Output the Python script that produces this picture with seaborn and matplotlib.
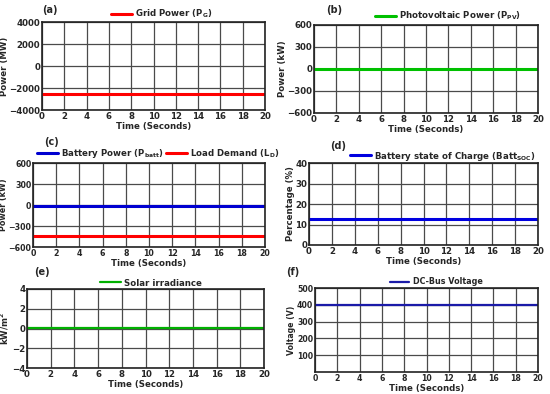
import pandas as pd
import matplotlib
matplotlib.use("Agg")
import matplotlib.pyplot as plt
import seaborn as sns

sns.set_style("white")
plt.rcParams['font.family'] = ['DejaVu Sans']
plt.rcParams['font.weight'] = 'bold'

# Data (constant signals over the 20 s simulation)
time = [0, 20]
grid_power = [-2550, -2550]        # MW
pv_power = [0, 0]                  # kW
battery_power = [-15, -15]         # kW
load_demand = [-440, -440]         # kW
battery_soc = [12.5, 12.5]         # %
irradiance = [0.1, 0.1]            # kW/m2
dc_bus_voltage = [400, 400]        # V

x_ticks = list(range(0, 21, 2))

fig = plt.figure(figsize=(5.5, 3.94), dpi=100)

grid_col = '#4a4a4a'
fs = 6.2


def style_axes(ax, yticks, ylim, ylabel, xlabel='Time (Seconds)', ylabel_fs=fs, tick_fs=fs):
    ax.set_xlim(0, 20)
    ax.set_ylim(*ylim)
    ax.set_xticks(x_ticks)
    ax.set_yticks(yticks)
    ax.grid(True, color=grid_col, linewidth=0.9)
    ax.tick_params(axis='both', labelsize=tick_fs, length=0, pad=1.2)
    for lab in ax.get_xticklabels() + ax.get_yticklabels():
        lab.set_fontweight('bold')
    for sp in ax.spines.values():
        sp.set_color('#222222')
        sp.set_linewidth(1.2)
    ax.set_xlabel(xlabel, fontsize=fs, fontweight='bold', labelpad=1)
    ax.set_ylabel(ylabel, fontsize=ylabel_fs, fontweight='bold', labelpad=0.5)


def add_legend(ax, x, y, ncol=1, size=6.2):
    leg = ax.legend(loc='center left', bbox_to_anchor=(x / 550, 1 - y / 394),
                    bbox_transform=fig.transFigure, frameon=False, ncol=ncol,
                    fontsize=size, handlelength=2.4, handletextpad=0.4,
                    columnspacing=0.3, borderpad=0, borderaxespad=0)
    for t in leg.get_texts():
        t.set_fontweight('bold')


# (a) Grid power
ax_a = fig.add_axes([42 / 550, 1 - 110 / 394, 223 / 550, 88 / 394])
df = pd.DataFrame({'t': time, 'v': grid_power})
sns.lineplot(data=df, x='t', y='v', ax=ax_a, color='#ff0000', linewidth=2.2,
             label='Grid Power (P$_\\mathbf{G}$)')
style_axes(ax_a, [-4000, -2000, 0, 2000, 4000], (-4000, 4000), 'Power (MW)')
add_legend(ax_a, 111, 14)
fig.text(42 / 550, 1 - 10 / 394, '(a)', fontsize=7, fontweight='bold', va='center')

# (b) Photovoltaic power
ax_b = fig.add_axes([314 / 550, 1 - 113 / 394, 224 / 550, 88 / 394])
df = pd.DataFrame({'t': time, 'v': pv_power})
sns.lineplot(data=df, x='t', y='v', ax=ax_b, color='#00c000', linewidth=2.2,
             label='Photovoltaic Power (P$_\\mathbf{PV}$)')
style_axes(ax_b, [-600, -300, 0, 300, 600], (-600, 600), 'Power (kW)')
add_legend(ax_b, 375, 16)
fig.text(326 / 550, 1 - 10 / 394, '(b)', fontsize=7, fontweight='bold', va='center')

# (c) Battery power and load demand
ax_c = fig.add_axes([33 / 550, 1 - 247 / 394, 232 / 550, 84 / 394])
df = pd.DataFrame({'t': time, 'v': battery_power})
sns.lineplot(data=df, x='t', y='v', ax=ax_c, color='#0000d0', linewidth=2.2,
             label='Battery Power (P$_\\mathbf{batt}$)')
df = pd.DataFrame({'t': time, 'v': load_demand})
sns.lineplot(data=df, x='t', y='v', ax=ax_c, color='#ff0000', linewidth=2.2,
             label='Load Demand (L$_\\mathbf{D}$)')
style_axes(ax_c, [-600, -300, 0, 300, 600], (-600, 600), 'Power (kW)',
           ylabel_fs=5.8, tick_fs=5.7)
ax_c.yaxis.labelpad = 0
add_legend(ax_c, 37, 154, ncol=2)
fig.text(44 / 550, 1 - 142 / 394, '(c)', fontsize=7, fontweight='bold', va='center')

# (d) Battery state of charge
ax_d = fig.add_axes([309 / 550, 1 - 245 / 394, 229 / 550, 82 / 394])
df = pd.DataFrame({'t': time, 'v': battery_soc})
sns.lineplot(data=df, x='t', y='v', ax=ax_d, color='#0000e0', linewidth=2.2,
             label='Battery state of Charge (Batt$_\\mathbf{SOC}$)')
style_axes(ax_d, [0, 10, 20, 30, 40], (0, 40), 'Percentage (%)')
add_legend(ax_d, 350, 156)
fig.text(330 / 550, 1 - 146 / 394, '(d)', fontsize=7, fontweight='bold', va='center')

# (e) Solar irradiance
ax_e = fig.add_axes([27 / 550, 1 - 368 / 394, 237 / 550, 79 / 394])
df = pd.DataFrame({'t': time, 'v': irradiance})
sns.lineplot(data=df, x='t', y='v', ax=ax_e, color='#00b000', linewidth=1.6,
             label='Solar irradiance')
style_axes(ax_e, [-4, -2, 0, 2, 4], (-4, 4), 'kW/m$^\\mathbf{2}$')
add_legend(ax_e, 100, 283)
fig.text(34 / 550, 1 - 272 / 394, '(e)', fontsize=7, fontweight='bold', va='center')

# (f) DC-bus voltage
ax_f = fig.add_axes([315 / 550, 1 - 372 / 394, 223 / 550, 84 / 394])
df = pd.DataFrame({'t': time, 'v': dc_bus_voltage})
sns.lineplot(data=df, x='t', y='v', ax=ax_f, color='#1a1aa8', linewidth=1.6,
             label='DC-Bus Voltage')
style_axes(ax_f, [100, 200, 300, 400, 500], (0, 500), 'Voltage (V)',
           ylabel_fs=5.6, tick_fs=5.6)
add_legend(ax_f, 390, 282, size=5.8)
fig.text(286 / 550, 1 - 272 / 394, '(f)', fontsize=7, fontweight='bold', va='center')

fig.savefig('out.png', dpi=100)
